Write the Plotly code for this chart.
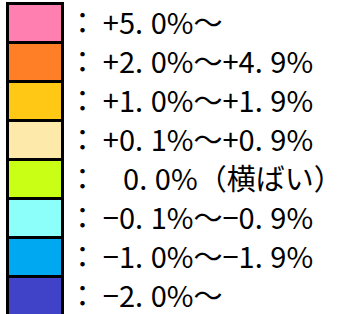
import plotly.graph_objects as go

S = "\u2009\u200a"
labels = [
    f"：\u2009+5.{S}0%～",
    f"：\u2009+2.{S}0%～+4.{S}9%",
    f"：\u2009+1.{S}0%～+1.{S}9%",
    f"：\u2009+0.{S}1%～+0.{S}9%",
    f"：\u2009\u2002\u20090.{S}0%（横ばい）",
    f"：\u2009\u22120.{S}1%～\u22120.{S}9%",
    f"：\u2009\u22121.{S}0%～\u22121.{S}9%",
    f"：\u2009\u22122.{S}0%～",
]
colors = ["#FF80B0", "#FF7F27", "#FFC814", "#FDEAAA",
          "#C8FF14", "#8CFFFB", "#00A8F2", "#4043C8"]
positions = list(range(len(labels)))
widths = [1] * len(labels)

fig = go.Figure(go.Bar(
    x=widths, y=positions, orientation="h",
    marker=dict(color=colors, line=dict(color="black", width=3)),
    hoverinfo="skip",
))

fig.update_layout(
    width=345, height=314,
    margin=dict(l=6, r=280, t=2, b=0, pad=0),
    paper_bgcolor="white", plot_bgcolor="white",
    bargap=0, showlegend=False,
    font=dict(family="Noto Sans CJK JP", size=29, color="black"),
)
fig.update_xaxes(range=[-0.046, 1.046], visible=False, fixedrange=True,
                 automargin=False)
fig.update_yaxes(
    range=[7.449, -0.551], side="right",
    tickvals=positions, ticktext=labels,
    showgrid=False, zeroline=False, showline=False, ticks="",
    ticklabelstandoff=2, fixedrange=True, automargin=False,
    ticklabeloverflow="allow",
)

fig.write_html("out.html", config={"displayModeBar": False},
               post_script="document.body.style.margin='0';document.body.style.overflow='hidden';")
